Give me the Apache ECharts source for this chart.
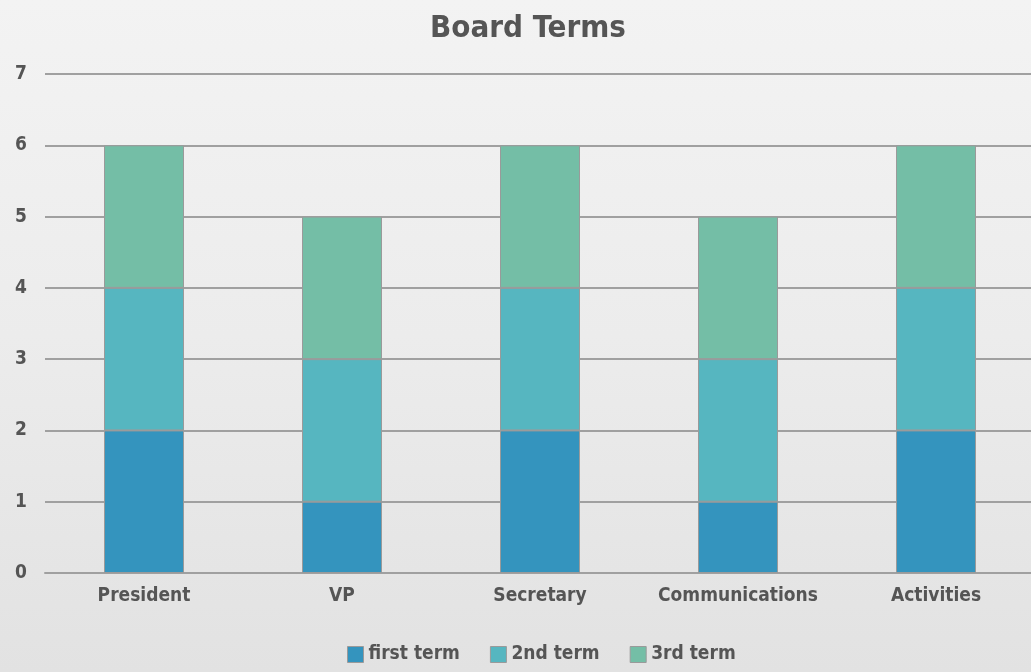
<!DOCTYPE html>
<html><head><meta charset="utf-8">
<script src="https://cdn.jsdelivr.net/npm/echarts@6/dist/echarts.min.js"></script>
<style>
html,body{margin:0;padding:0;width:1031px;height:672px;overflow:hidden;
background:linear-gradient(180deg,#f3f3f3 0%,#ececec 50%,#e2e2e2 100%);}
#c{width:1040px;height:672px;}
</style></head><body><div id="c"></div>
<script>
const categories = ['President','VP','Secretary','Communications','Activities'];
const firstTerm = [2,1,2,1,2];
const secondTerm = [2,2,2,2,2];
const thirdTerm = [2,2,2,2,2];
const seriesNames = ['first term','2nd term','3rd term'];
const colors = ['#3494be','#56b6c0','#74bea6'];
const FONT = '"Liberation Sans Narrow","DejaVu Sans Condensed","Roboto Condensed",sans-serif';
const chart = echarts.init(document.getElementById('c'));
const mk = (name, data, i) => ({
  name, type:'bar', stack:'t', data, barWidth:80,
  itemStyle:{color:colors[i], borderColor:'#9a9a9a', borderWidth:1}
});
chart.setOption({
  backgroundColor:'transparent',
  color: colors,
  title:{text:'Board Terms', left:425, top:8,
    textStyle:{fontFamily:FONT, fontWeight:'bold', fontSize:31, color:'#555'}},
  legend:{bottom:3, left:342, itemWidth:16, itemHeight:16, itemGap:30,
    icon:'rect',
    itemStyle:{borderColor:'#9a9a9a', borderWidth:1},
    textStyle:{fontFamily:FONT, fontWeight:'bold', fontSize:19, color:'#555'},
    data: seriesNames},
  grid:{left:45, width:990, top:74, bottom:99, containLabel:false},
  xAxis:{type:'category', data:categories,
    axisLine:{lineStyle:{color:'#a0a0a0', width:2}},
    axisTick:{show:false},
    axisLabel:{fontFamily:FONT, fontWeight:'bold', fontSize:19, color:'#555', margin:14, interval:0}},
  yAxis:{type:'value', min:0, max:7, interval:1,
    axisLine:{show:false}, axisTick:{show:false},
    splitLine:{lineStyle:{color:'#a0a0a0', width:2}},
    axisLabel:{fontFamily:FONT, fontWeight:'bold', fontSize:19, color:'#555', margin:18}},
  series:[mk(seriesNames[0], firstTerm, 0), mk(seriesNames[1], secondTerm, 1), mk(seriesNames[2], thirdTerm, 2)]
});
</script></body></html>
